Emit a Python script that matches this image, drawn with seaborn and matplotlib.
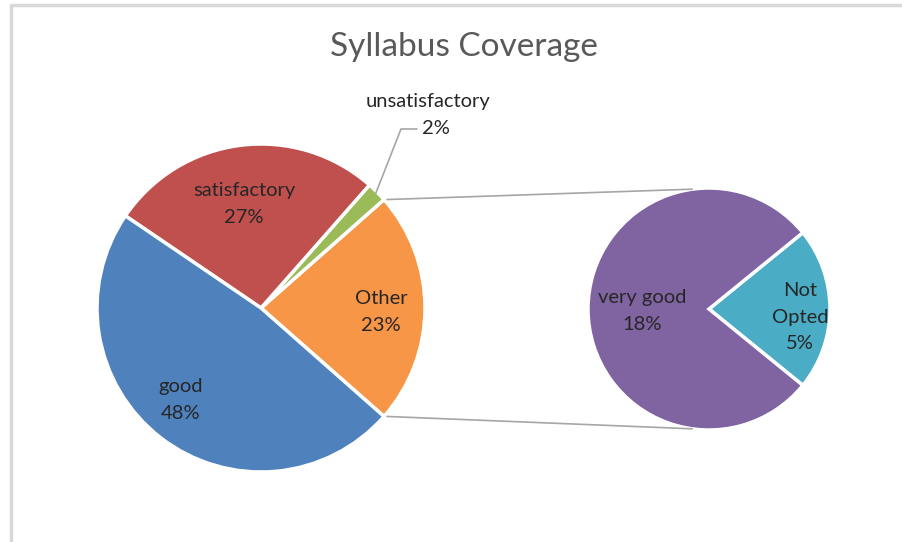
"""
Syllabus Coverage - pie of pie chart
"""

import numpy as np
import matplotlib
matplotlib.use("Agg")
import matplotlib.pyplot as plt
import seaborn as sns

# main pie data
main_labels = ["Other", "unsatisfactory", "satisfactory", "good"]
main_values = [23, 2, 27, 48]
main_colors = ["#F79646", "#9BBB59", "#C0504D", "#4F81BD"]

# breakdown of "Other"
sub_labels = ["Not\nOpted", "very good"]
sub_values = [5, 18]
sub_colors = ["#4BACC6", "#8064A2"]

TITLE = "Syllabus Coverage"

sns.set_style("white")
plt.rcParams["font.family"] = ["Lato", "DejaVu Sans"]

fig = plt.figure(figsize=(9.02, 5.42), dpi=100)
ax = fig.add_axes([0, 0, 1, 1])

main_center = (261, 234)
main_r = 164
sub_center = (709, 233)
sub_r = 121

# main pie, "Other" centred on the right side
other_frac = main_values[0] / sum(main_values)
main_start = -other_frac * 360 / 2
ax.pie(main_values, colors=main_colors, startangle=main_start,
       center=main_center, radius=main_r,
       wedgeprops=dict(edgecolor="white", linewidth=2.5), frame=True)

sub_frac = sub_values[0] / sum(sub_values)
sub_start = -sub_frac * 360 / 2
ax.pie(sub_values, colors=sub_colors, startangle=sub_start,
       center=sub_center, radius=sub_r,
       wedgeprops=dict(edgecolor="white", linewidth=2.5), frame=True)
ax.set_xlim(0, 902)
ax.set_ylim(0, 542)
ax.set_aspect("equal")
ax.axis("off")

# connector lines from "Other" to the second pie
a = np.deg2rad(-main_start)
b = np.deg2rad(98)
for sign in (1, -1):
    x0 = main_center[0] + main_r * np.cos(a) + 3
    y0 = main_center[1] + sign * main_r * np.sin(a)
    x1 = sub_center[0] + sub_r * np.cos(b)
    y1 = sub_center[1] + sign * sub_r * np.sin(b)
    ax.plot([x0, x1], [y0, y1], color="#A6A6A6", lw=1.2)

txt = dict(fontsize=14.5, color="#262626", ha="center", va="center",
           linespacing=1.65)

# labels for the main pie
pcts = [f"{v}%" for v in main_values]
ax.text(381, 542 - 312, f"{main_labels[0]}\n{pcts[0]}", **txt)
ax.text(244, 542 - 204, f"{main_labels[2]}\n{pcts[2]}", **txt)
ax.text(181, 542 - 400, f"{main_labels[3]}\n{pcts[3]}", **txt)
ax.text(428, 542 - 101, main_labels[1], **txt)
ax.text(436, 542 - 129, pcts[1], **txt)

# leader line for the small slice
mid = np.deg2rad(main_start + 360 * other_frac + 360 * main_values[1] / 100 / 2)
lx = main_center[0] + main_r * np.cos(mid) * 0.99
ly = main_center[1] + main_r * np.sin(mid) * 0.99
ax.plot([lx, 401, 417], [ly, 542 - 129, 542 - 129], color="#A6A6A6", lw=1.2)

# labels for the second pie
ax.text(642, 542 - 311, f"{sub_labels[1]}\n{sub_values[1]}%", **txt)
ax.text(800, 542 - 317, f"{sub_labels[0]}\n{sub_values[0]}%", **txt)

ax.text(464, 542 - 47, TITLE, fontsize=24, color="#595959",
        ha="center", va="center")

# chart frame
ax.plot([11, 11, 902], [0, 537, 537], color="#D9D9D9", lw=2.5)

fig.savefig("out.png", dpi=100)
